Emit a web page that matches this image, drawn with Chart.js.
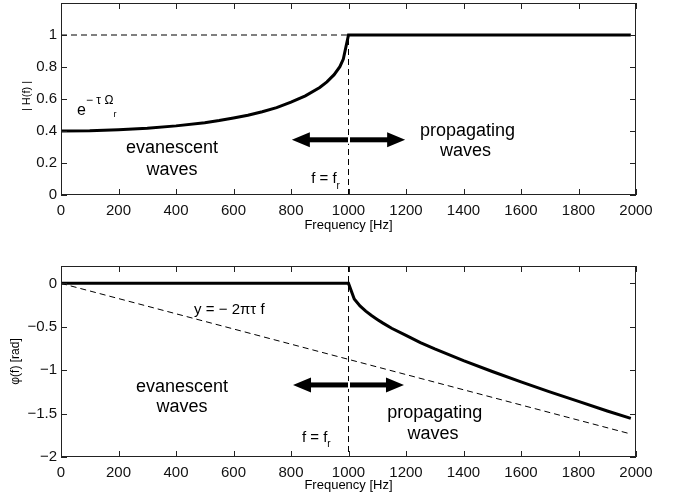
<!DOCTYPE html>
<html>
<head>
<meta charset="utf-8">
<title>|H(f)| and phase</title>
<script src="https://cdn.jsdelivr.net/npm/chart.js@4.4.1/dist/chart.umd.min.js"></script>
<style>
  body { margin: 0; background: #fff; }
  #wrap { width: 652px; height: 501px; overflow: hidden; }
  canvas { display: block; }
</style>
</head>
<body>
<div id="wrap">
  <canvas id="magChart" width="674" height="250"></canvas>
  <canvas id="phaseChart" width="674" height="251"></canvas>
</div>
<script>
// ---- data ----
const freqTicks  = [0, 200, 400, 600, 800, 1000, 1200, 1400, 1600, 1800, 2000];
const magTicks   = [0, 0.2, 0.4, 0.6, 0.8, 1];
const phaseTicks = [-2, -1.5, -1, -0.5, 0];

const freq = [0, 100, 200, 300, 400, 500, 550, 600, 650, 700, 750, 800, 850, 900, 925, 950, 970, 982, 1000,
              1020, 1040, 1060, 1080, 1100, 1120, 1150, 1200, 1250, 1300, 1400, 1500, 1600, 1700, 1800, 1900, 1982];
const magnitude = [0.400, 0.402, 0.408, 0.417, 0.432, 0.452, 0.465, 0.481, 0.499, 0.520, 0.546, 0.580, 0.620, 0.672, 0.707, 0.752, 0.802, 0.850, 1,
                   1, 1, 1, 1, 1, 1, 1, 1, 1, 1, 1, 1, 1, 1, 1, 1, 1];
const phase = [0, 0, 0, 0, 0, 0, 0, 0, 0, 0, 0, 0, 0, 0, 0, 0, 0, 0, 0,
               -0.18, -0.26, -0.32, -0.37, -0.415, -0.458, -0.517, -0.60, -0.683, -0.755, -0.89, -1.015, -1.135, -1.25, -1.36, -1.47, -1.555];

// dashed guide lines
const unitX = [0, 1000];          const unitY = [1, 1];
const cutoffX = [1000, 1000];
const magCutoffY = [0, 1];        const phaseCutoffY = [0.2, -2];
const slopeX = [0, 1982];         const slopeY = [0, -1.735];

const FONT = "'Liberation Sans', Arial, Helvetica, sans-serif";

function pts(xs, ys) {
    return xs.map((x, i) => ({ x: x, y: ys[i] }));
}

function solid(xs, ys) {
    return { data: pts(xs, ys), borderColor: '#000', borderWidth: 3, pointRadius: 0, tension: 0 };
}

function dashed(xs, ys) {
    return { data: pts(xs, ys), borderColor: '#000', borderWidth: 1, borderDash: [6, 4], pointRadius: 0, tension: 0 };
}

// draw text made of pieces (for sub/superscripts)
function drawRich(ctx, parts, x, y) {
    let cx = x;
    parts.forEach(p => {
        ctx.font = p.size + 'px ' + FONT;
        ctx.textAlign = 'left';
        ctx.textBaseline = 'middle';
        ctx.fillText(p.t, cx, y + (p.dy || 0));
        cx += ctx.measureText(p.t).width + (p.gap || 0);
    });
}

function drawArrow(ctx, x1, x2, y) {
    const head = 18, half = 7.5, shaft = 5;
    ctx.fillStyle = '#000';
    ctx.fillRect(x1 + head - 1, y - shaft / 2, (x2 - x1) - 2 * head + 2, shaft);
    ctx.beginPath();
    ctx.moveTo(x1, y); ctx.lineTo(x1 + head, y - half); ctx.lineTo(x1 + head, y + half); ctx.closePath();
    ctx.moveTo(x2, y); ctx.lineTo(x2 - head, y - half); ctx.lineTo(x2 - head, y + half); ctx.closePath();
    ctx.fill();
}

// frame with inward tick marks on all four sides + axis titles + notes
function makeDecor(cfg) {
    return {
        id: 'decor',
        afterDatasetsDraw(chart) {
            const { ctx, chartArea: a, scales } = chart;
            const xs = scales.x, ys = scales.y;
            ctx.save();
            ctx.fillStyle = '#000';

            // notes
            cfg.texts.forEach(t => {
                ctx.font = t.size + 'px ' + FONT;
                ctx.textAlign = 'center';
                ctx.textBaseline = 'middle';
                ctx.fillText(t.text, xs.getPixelForValue(t.x), ys.getPixelForValue(t.y));
            });
            cfg.rich.forEach(r => drawRich(ctx, r.parts, xs.getPixelForValue(r.x), ys.getPixelForValue(r.y)));

            const ay = ys.getPixelForValue(cfg.arrow.y);
            drawArrow(ctx, xs.getPixelForValue(cfg.arrow.x1), xs.getPixelForValue(cfg.arrow.x2), ay);
            // small white break where the cutoff line crosses the arrow
            ctx.fillStyle = '#fff';
            ctx.fillRect(Math.round(xs.getPixelForValue(1000)) - 1, ay - 4, 2, 8);

            // box
            ctx.strokeStyle = '#222';
            ctx.lineWidth = 1;
            ctx.strokeRect(a.left + 0.5, a.top + 0.5, a.right - a.left - 1, a.bottom - a.top - 1);

            // inward ticks
            const tl = 6;
            ctx.beginPath();
            xs.ticks.forEach(t => {
                const px = Math.round(xs.getPixelForValue(t.value)) + 0.5;
                ctx.moveTo(px, a.bottom); ctx.lineTo(px, a.bottom - tl);
                ctx.moveTo(px, a.top); ctx.lineTo(px, a.top + tl);
            });
            ys.ticks.forEach(t => {
                const py = Math.round(ys.getPixelForValue(t.value)) + 0.5;
                ctx.moveTo(a.left, py); ctx.lineTo(a.left + tl, py);
                ctx.moveTo(a.right, py); ctx.lineTo(a.right - tl, py);
            });
            ctx.stroke();

            // axis titles
            ctx.fillStyle = '#000';
            ctx.font = '13px ' + FONT;
            ctx.textAlign = 'center';
            ctx.textBaseline = 'middle';
            ctx.fillText('Frequency [Hz]', (a.left + a.right) / 2, cfg.xTitleY);

            ctx.save();
            ctx.translate(cfg.yTitleX, (a.top + a.bottom) / 2 + cfg.yTitleDy);
            ctx.rotate(-Math.PI / 2);
            ctx.font = cfg.yTitleSize + 'px ' + FONT;
            ctx.fillText(cfg.yTitle, 0, 0);
            ctx.restore();

            ctx.restore();
        }
    };
}

function tickLabel(v) {
    const s = String(Number(v.toFixed(2)));
    return s.replace('-', '\u2212');
}

function setupChart(id, datasets, yMin, yMax, yTicks, xAxisH, padTop, decor) {
    const canvas = document.getElementById(id);
    return new Chart(canvas.getContext('2d'), {
        type: 'line',
        data: { datasets: datasets },
        options: {
            responsive: false,
            animation: false,
            events: [],
            layout: { padding: { left: 0, right: 38, top: padTop, bottom: 0 } },
            plugins: { legend: { display: false }, tooltip: { enabled: false } },
            scales: {
                x: {
                    type: 'linear', min: 0, max: 2000,
                    afterBuildTicks: s => { s.ticks = freqTicks.map(v => ({ value: v })); },
                    afterFit: s => { s.height = xAxisH; s.paddingLeft = 0; s.paddingRight = 0; },
                    grid: { display: false, drawTicks: false },
                    border: { display: false },
                    ticks: { color: '#111', font: { family: FONT, size: 15 }, padding: 7, maxRotation: 0, autoSkip: false, callback: tickLabel }
                },
                y: {
                    type: 'linear', min: yMin, max: yMax,
                    afterBuildTicks: s => { s.ticks = yTicks.map(v => ({ value: v })); },
                    afterFit: s => { s.width = 61; s.paddingTop = 0; s.paddingBottom = 0; },
                    grid: { display: false, drawTicks: false },
                    border: { display: false },
                    ticks: { color: '#111', font: { family: FONT, size: 15 }, padding: 4, callback: tickLabel }
                }
            }
        },
        plugins: [makeDecor(decor)]
    });
}

// top: magnitude
setupChart('magChart',
    [solid(freq, magnitude), dashed(unitX, unitY), dashed(cutoffX, magCutoffY)],
    0, 1.2, magTicks, 55, 3,
    {
        texts: [
            { text: 'evanescent', x: 386, y: 0.294, size: 18 },
            { text: 'waves', x: 386, y: 0.156, size: 18 },
            { text: 'propagating', x: 1414, y: 0.40, size: 18 },
            { text: 'waves', x: 1407, y: 0.275, size: 18 }
        ],
        rich: [
            { x: 56, y: 0.53, parts: [{ t: 'e', size: 16 }, { t: '\u2212 \u03c4 \u03a9', size: 12, dy: -10 }, { t: 'r', size: 9, dy: 4 }] },
            { x: 870, y: 0.10, parts: [{ t: 'f = f', size: 15 }, { t: 'r', size: 10, dy: 7 }] }
        ],
        arrow: { x1: 803, x2: 1197, y: 0.345 },
        xTitleY: 225, yTitle: '| H(f) |', yTitleX: 27, yTitleDy: -3, yTitleSize: 11
    });

// bottom: phase
setupChart('phaseChart',
    [solid(freq, phase), dashed(slopeX, slopeY), dashed(cutoffX, phaseCutoffY)],
    -2, 0.2, phaseTicks, 44, 16,
    {
        texts: [
            { text: 'evanescent', x: 421, y: -1.19, size: 18 },
            { text: 'waves', x: 421, y: -1.424, size: 18 },
            { text: 'propagating', x: 1300, y: -1.497, size: 18 },
            { text: 'waves', x: 1294, y: -1.735, size: 18 }
        ],
        rich: [
            { x: 463, y: -0.306, parts: [{ t: 'y = \u2212 2\u03c0\u03c4 f', size: 15 }] },
            { x: 838, y: -1.778, parts: [{ t: 'f = f', size: 15 }, { t: 'r', size: 10, dy: 7 }] }
        ],
        arrow: { x1: 807, x2: 1193, y: -1.17 },
        xTitleY: 235, yTitle: '\u03c6(f) [rad]', yTitleX: 16, yTitleDy: 0, yTitleSize: 12
    });
</script>
</body>
</html>
